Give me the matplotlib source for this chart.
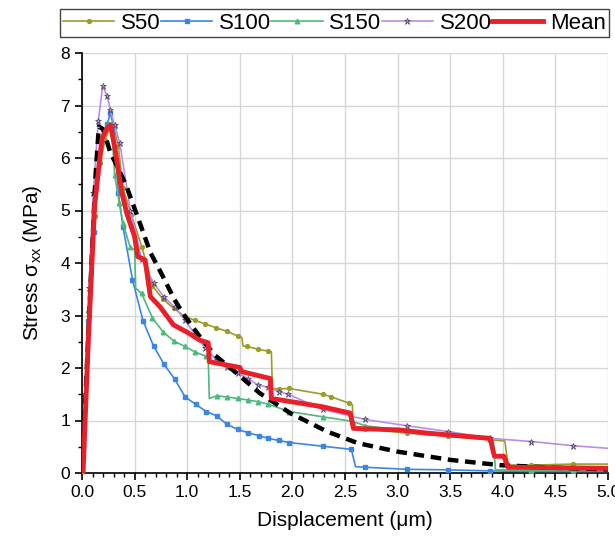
import matplotlib
matplotlib.use('Agg')
from matplotlib import pyplot as plt
from matplotlib.ticker import MultipleLocator, FormatStrFormatter

plt.rcParams['font.family'] = ['Liberation Sans', 'DejaVu Sans']
plt.rcParams['mathtext.fontset'] = 'custom'
plt.rcParams['mathtext.rm'] = 'Liberation Sans'
plt.rcParams['mathtext.it'] = 'Liberation Sans'

# S50
x50 = [0, 0.07, 0.12, 0.17, 0.22, 0.27, 0.30, 0.345, 0.39, 0.47, 0.57, 0.67, 0.77, 0.87, 0.97,
       1.07, 1.17, 1.27, 1.375, 1.48, 1.52, 1.53, 1.565, 1.67, 1.77, 1.80, 1.81, 1.87, 1.97,
       2.29, 2.37, 2.54, 2.57, 2.58, 2.69, 3.09, 3.48, 3.88, 4.02, 4.05, 4.27, 4.67, 5.0]
y50 = [0, 3.0, 4.9, 5.9, 6.35, 6.6, 6.62, 6.23, 5.42, 4.91, 4.3, 3.56, 3.31, 3.14, 2.99,
       2.91, 2.84, 2.77, 2.70, 2.61, 2.58, 2.42, 2.41, 2.36, 2.32, 2.31, 1.61, 1.60, 1.61,
       1.50, 1.45, 1.33, 1.30, 0.86, 0.84, 0.76, 0.70, 0.63, 0.61, 0.15, 0.15, 0.17, 0.17]
nomark50 = [20, 21, 25, 26, 32, 33, 38, 39, 42]

# S100
x100 = [0, 0.06, 0.11, 0.16, 0.21, 0.24, 0.27, 0.30, 0.345, 0.39, 0.48, 0.58, 0.68, 0.78, 0.88,
        0.98, 1.08, 1.18, 1.28, 1.375, 1.48, 1.575, 1.68, 1.77, 1.87, 1.97, 2.29, 2.56, 2.60,
        2.69, 3.09, 3.48, 3.88, 4.27, 4.67, 5.0]
y100 = [0, 2.9, 4.6, 5.9, 6.5, 6.65, 6.85, 6.6, 5.33, 4.69, 3.68, 2.90, 2.42, 2.07, 1.79,
        1.45, 1.31, 1.17, 1.09, 0.93, 0.83, 0.77, 0.71, 0.66, 0.62, 0.58, 0.51, 0.45, 0.12,
        0.11, 0.07, 0.06, 0.04, 0.03, 0.03, 0.03]
nomark100 = [28, 35]

# S150
x150 = [0, 0.06, 0.11, 0.16, 0.21, 0.25, 0.28, 0.31, 0.355, 0.39, 0.456, 0.50, 0.51, 0.567,
        0.67, 0.77, 0.875, 0.98, 1.07, 1.18, 1.20, 1.21, 1.28, 1.375, 1.48, 1.575, 1.67, 1.77,
        1.97, 2.29, 2.58, 2.69, 3.09, 3.48, 3.88, 3.91, 3.93, 4.27, 4.67, 5.0]
y150 = [0, 3.1, 4.9, 6.0, 6.5, 6.65, 6.65, 5.68, 5.14, 4.76, 4.31, 4.25, 3.52, 3.42,
        2.95, 2.69, 2.51, 2.41, 2.31, 2.22, 2.20, 1.42, 1.47, 1.45, 1.42, 1.39, 1.36, 1.31,
        1.17, 1.07, 0.98, 0.90, 0.80, 0.72, 0.64, 0.63, 0.06, 0.05, 0.05, 0.05]
nomark150 = [11, 12, 20, 21, 35, 36, 39]

# S200
x200 = [0, 0.067, 0.107, 0.155, 0.197, 0.24, 0.27, 0.31, 0.36, 0.46, 0.567, 0.68, 0.78, 0.88,
        0.98, 1.07, 1.17, 1.28, 1.375, 1.48, 1.575, 1.67, 1.77, 1.87, 1.96, 2.29, 2.69, 3.09,
        3.48, 3.88, 4.27, 4.67, 5.0]
y200 = [0, 3.52, 5.33, 6.71, 7.37, 7.18, 6.91, 6.62, 6.28, 5.0, 4.07, 3.62, 3.35, 3.16,
        2.91, 2.65, 2.38, 2.15, 2.02, 1.91, 1.80, 1.68, 1.63, 1.55, 1.50, 1.21, 1.02, 0.90,
        0.79, 0.66, 0.60, 0.52, 0.47]
nomark200 = [32]

# Mean
xmean = [0.01, 0.06, 0.12, 0.19, 0.24, 0.27, 0.31, 0.38, 0.425, 0.50, 0.53, 0.60, 0.65, 0.74,
         0.87, 1.00, 1.12, 1.20, 1.21, 1.50, 1.52, 1.79, 1.80, 2.29, 2.55, 2.58, 3.02, 3.28,
         3.88, 3.92, 4.01, 4.05, 5.0]
ymean = [0, 2.53, 5.1, 6.37, 6.58, 6.63, 6.22, 5.33, 4.95, 4.5, 4.12, 4.06, 3.36, 3.17,
         2.82, 2.68, 2.53, 2.48, 2.12, 2.01, 1.93, 1.80, 1.42, 1.26, 1.14, 0.85, 0.82, 0.76,
         0.66, 0.32, 0.32, 0.11, 0.09]

# fitted curve (black dashed)
xfit = [0, 0.05, 0.10, 0.13, 0.16, 0.20, 0.27, 0.35, 0.425, 0.55, 0.65, 0.77, 0.88, 0.96,
        1.1, 1.26, 1.47, 1.69, 1.98, 2.33, 2.62, 2.99, 3.5, 3.97, 4.5, 5.0]
yfit = [0, 2.2, 4.4, 5.7, 6.6, 6.55, 6.1, 5.78, 5.45, 4.76, 4.2, 3.74, 3.3, 3.04,
        2.65, 2.25, 1.90, 1.52, 1.14, 0.79, 0.57, 0.41, 0.25, 0.15, 0.10, 0.07]


def marks(x, skip):
    return [i for i in range(len(x)) if i not in skip]


fig = plt.figure(figsize=(6.15, 5.41), dpi=100)
ax = fig.add_axes([82/615, 1-473/541, 526/615, 420/541])

ax.plot(x50, y50, color='#9c9c2a', lw=1.2, marker='o', ms=2.8,
        markevery=marks(x50, nomark50), label='S50', zorder=3)
ax.plot(x100, y100, color='#3a86e0', lw=1.2, marker='s', ms=2.6,
        markevery=marks(x100, nomark100), label='S100', zorder=3)
ax.plot(x150, y150, color='#4fb87c', lw=1.2, marker='^', ms=3.3,
        markevery=marks(x150, nomark150), label='S150', zorder=3)
ax.plot(x200, y200, color='#b98ee6', lw=1.2, marker='*', ms=4.5, mfc='#b98ee6',
        mec='#45405a', mew=0.5, markevery=marks(x200, nomark200), label='S200', zorder=3)
ax.plot(xfit, yfit, color='black', lw=3.2, dashes=(2.4, 1.5), zorder=4)
ax.plot(xmean, ymean, color='#e8202a', lw=3.5, label='Mean', zorder=5)

ax.set_xlim(0, 5)
ax.set_ylim(0, 8)
ax.xaxis.set_major_locator(MultipleLocator(0.5))
ax.xaxis.set_minor_locator(MultipleLocator(0.1))
ax.xaxis.set_major_formatter(FormatStrFormatter('%.1f'))
ax.yaxis.set_major_locator(MultipleLocator(1))
ax.yaxis.set_minor_locator(MultipleLocator(0.5))
ax.grid(True, which='major', color='#d6d6d6', lw=1)
ax.set_axisbelow(True)
for s in ['top', 'right']:
    ax.spines[s].set_visible(False)
ax.spines['left'].set_linewidth(1.2)
ax.spines['bottom'].set_linewidth(1.2)
ax.tick_params(which='major', direction='out', length=5, width=1.2, labelsize=12.5)
ax.tick_params(which='minor', direction='out', length=3, width=1)

ax.set_xlabel('Displacement (\u03bcm)', fontsize=15, labelpad=8)
ax.set_ylabel('Stress $\\mathregular{\\sigma_{xx}}$ (MPa)', fontsize=15, labelpad=12)

fig.legend(loc='lower left', bbox_to_anchor=(60/615, 1-37/541, 549/615, 26/541),
           mode='expand', ncol=5, borderaxespad=0, fontsize=16, handlelength=2.3,
           handletextpad=0.3, columnspacing=0.3, fancybox=False, edgecolor='#444444',
           framealpha=1, borderpad=0.15, markerscale=1.0)

plt.savefig('out.png', dpi=100)
